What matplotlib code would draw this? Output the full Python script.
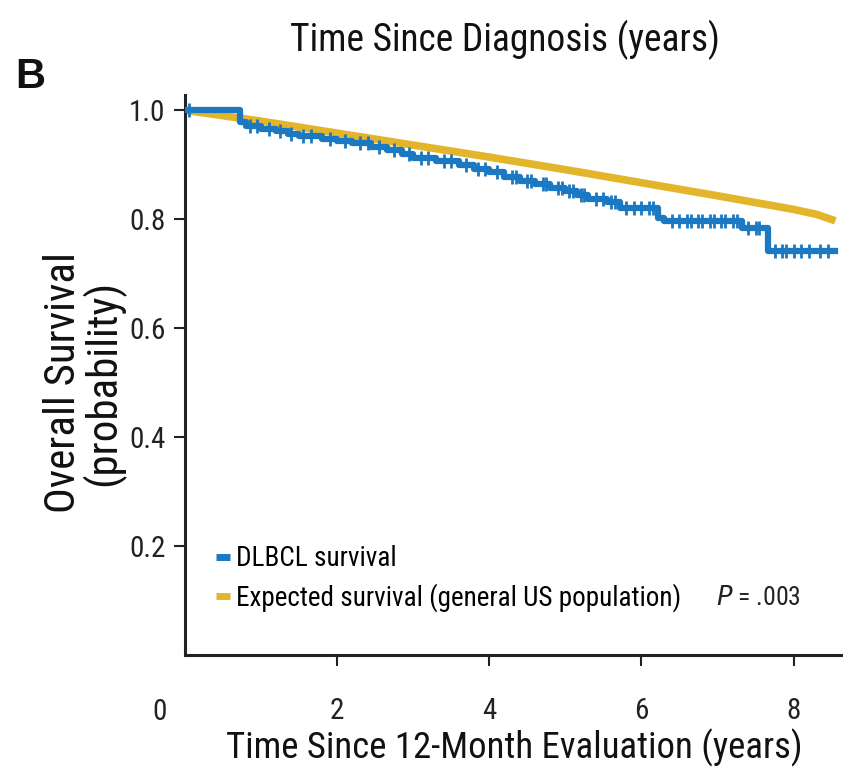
import matplotlib
matplotlib.use("Agg")
import matplotlib.pyplot as plt
from matplotlib.lines import Line2D
from matplotlib import font_manager as fm

# pick a condensed face if one is installed
installed = {f.name for f in fm.fontManager.ttflist}
narrow = None
for n in ['Liberation Sans Narrow', 'Roboto Condensed', 'Open Sans Condensed', 'Arial Narrow']:
    if n in installed:
        narrow = n
        break
if narrow:
    plt.rcParams['font.family'] = [narrow, 'DejaVu Sans']
else:
    plt.rcParams['font.family'] = ['DejaVu Sans']
    if any(f.name == 'DejaVu Sans' and 'condensed' in str(f.stretch) for f in fm.fontManager.ttflist):
        plt.rcParams['font.stretch'] = 'condensed'

# Kaplan-Meier steps for DLBCL survival (time in years, survival probability)
km_times = [0, 0.72, 0.8, 1.0, 1.2, 1.35, 1.5, 1.8, 2.0, 2.2, 2.45, 2.65, 2.85,
            3.0, 3.3, 3.6, 3.8, 4.0, 4.2, 4.4, 4.6, 4.8, 5.0, 5.15, 5.3, 5.55,
            5.72, 6.22, 6.3, 7.32, 7.66, 8.55]
km_surv = [1.0, 0.978, 0.972, 0.966, 0.962, 0.957, 0.952, 0.948, 0.944, 0.939,
           0.933, 0.927, 0.92, 0.912, 0.906, 0.9, 0.893, 0.886, 0.878, 0.871,
           0.864, 0.857, 0.851, 0.844, 0.838, 0.832, 0.821, 0.802, 0.797, 0.784,
           0.742, 0.742]

# censoring marks (years)
censor_times = [0.05, 0.85, 0.95, 1.1, 1.25, 1.4, 1.55, 1.65, 1.9, 2.1, 2.3, 2.4,
                2.55, 2.75, 2.95, 3.1, 3.2, 3.4, 3.5, 3.7, 3.85, 3.95, 4.1, 4.3,
                4.35, 4.5, 4.55, 4.7, 4.75, 4.9, 4.95, 5.05, 5.1, 5.2, 5.25,
                5.4, 5.5, 5.6, 5.65, 5.8, 5.9, 6.0, 6.1, 6.15, 6.4, 6.5, 6.6,
                6.65, 6.75, 6.8, 6.9, 6.95, 7.05, 7.1, 7.2, 7.25, 7.4, 7.5, 7.55,
                7.75, 7.85, 7.9, 8.0, 8.1, 8.2, 8.35, 8.45]

# expected survival of the general US population
exp_times = [0, 1, 2, 3, 4, 5, 6, 7, 8, 8.3, 8.55]
exp_surv = [1.0, 0.98, 0.958, 0.936, 0.914, 0.891, 0.867, 0.843, 0.818, 0.809, 0.797]

blue = '#1b78c2'
gold = '#e3b52a'
ink = '#222222'


def km_value(t):
    val = km_surv[0]
    for tt, s in zip(km_times, km_surv):
        if tt <= t:
            val = s
    return val


fig = plt.figure(figsize=(8.43, 7.76), dpi=100)
ax = fig.add_axes([185 / 843, 121 / 776, 658 / 843, 560 / 776])

ax.plot(exp_times, exp_surv, color=gold, lw=5.5, solid_capstyle='butt', zorder=2)
ax.step(km_times, km_surv, where='post', color=blue, lw=4.5, zorder=3)
ax.plot(censor_times, [km_value(t) for t in censor_times], ls='none', marker='|',
        ms=10, mew=2, color=blue, zorder=3)

ax.set_xlim(0, 8.65)
ax.set_ylim(0, 1.028)
ax.set_xticks([2, 4, 6, 8])
ax.set_yticks([0.2, 0.4, 0.6, 0.8, 1.0])
ax.set_yticklabels(['0.2', '0.4', '0.6', '0.8', '1.0'])
ax.tick_params(labelsize=21, length=8, width=1.5, direction='out', pad=6, colors=ink)
ax.tick_params(axis='x', pad=22)
for side in ['top', 'right']:
    ax.spines[side].set_visible(False)
for side in ['left', 'bottom']:
    ax.spines[side].set_linewidth(2.2)
    ax.spines[side].set_color(ink)

ax.text(-0.33, -0.105, '0', transform=ax.transData, fontsize=21, ha='center', va='center',
        color=ink, clip_on=False)

handles = [Line2D([], [], color=blue, lw=5, solid_capstyle='butt'),
           Line2D([], [], color=gold, lw=5, solid_capstyle='butt')]
ax.legend(handles, ['DLBCL survival', 'Expected survival (general US population)'],
          loc='lower left', bbox_to_anchor=(0.03, 0.058), frameon=False, fontsize=19.5,
          handlelength=0.55, handletextpad=0.2, labelspacing=0.4, borderaxespad=0)
ax.text(8.09, 0.105, '$P$ = .003', fontsize=18.5, ha='right', va='center', color=ink)

fig.text(505 / 843, 1 - 40 / 776, 'Time Since Diagnosis (years)', fontsize=27,
         ha='center', va='center', color='#111111')
fig.text(30 / 843, 1 - 77 / 776, 'B', fontsize=30, fontweight='bold', ha='center',
         va='center', family='Liberation Sans', stretch='normal', color='#111111')
fig.text(514 / 843, 1 - 748 / 776, 'Time Since 12-Month Evaluation (years)', fontsize=26.5,
         ha='center', va='center', color='#111111')
fig.text(84 / 843, 1 - 383 / 776, 'Overall Survival\n(probability)', fontsize=31,
         ha='center', va='center', rotation=90, linespacing=0.92, color='#111111')

fig.savefig('out.png', dpi=100)
